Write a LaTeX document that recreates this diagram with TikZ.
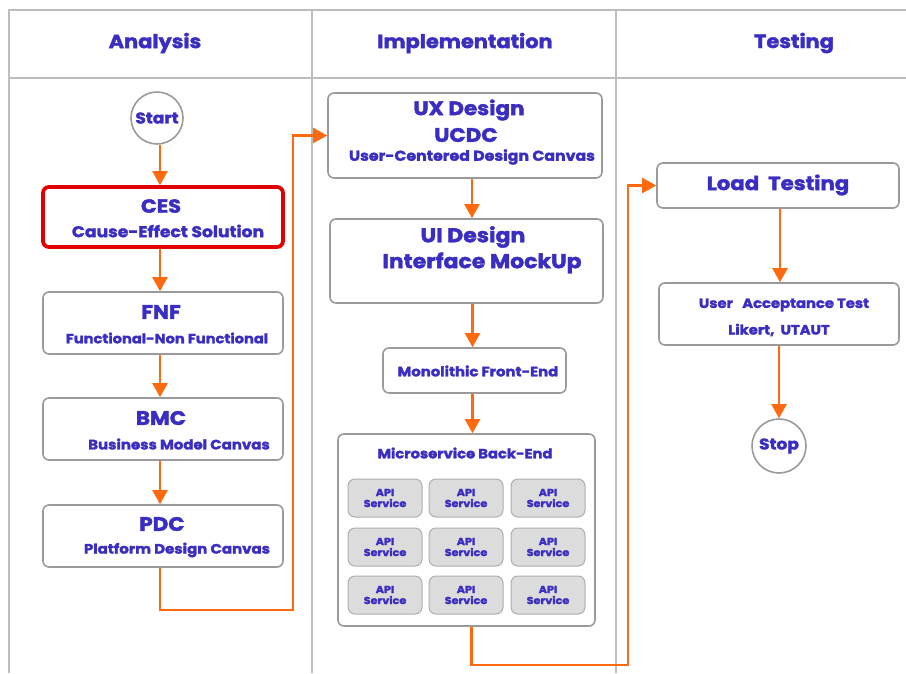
\documentclass[tikz,border=0pt]{standalone}
\usepackage{fontspec}
\setmainfont{Poppins}[FakeStretch=1.1, BoldFeatures={FakeBold=2}]
\usetikzlibrary{arrows.meta}
\definecolor{txt}{HTML}{3A2DC2}
\definecolor{org}{HTML}{FF6A10}
\definecolor{bgray}{HTML}{9A9A9A}
\definecolor{lgray}{HTML}{BDBDBD}
\definecolor{apifill}{HTML}{DCDCDC}
\definecolor{cesred}{HTML}{E00000}
\newcommand{\fs}[1]{\bfseries\fontsize{#1}{#1}\selectfont}
\begin{document}
\begin{tikzpicture}[x=1pt,y=-1pt,
  box/.style={draw=bgray, line width=1.6pt, rounded corners=6pt, fill=white, inner sep=0pt},
  circ/.style={draw=bgray, line width=1.6pt, circle, fill=white, inner sep=0pt},
  apibox/.style={draw=bgray!80, line width=1pt, rounded corners=7pt, fill=apifill, inner sep=0pt,
    minimum width=74pt, minimum height=38pt, align=center, text=txt, font=\bfseries\fontsize{10.2}{13}\selectfont},
  lbl/.style={text=txt, inner sep=0pt},
  flow/.style={draw=org, line width=2.1pt, -{Triangle[width=15pt,length=14pt]}},
  grid/.style={draw=lgray, line width=1.2pt}
]
\useasboundingbox (0,0) rectangle (906,673);
% swimlane grid
\draw[grid] (9,673) -- (9,10) -- (906,10);
\draw[grid] (9,78) -- (906,78);
\draw[grid] (312,10) -- (312,673);
\draw[grid] (616,10) -- (616,673);
\node[lbl, font=\fs{19}] (hA) at (155,43) {Analysis};
\node[lbl, font=\fs{19}] (hI) at (465,43) {Implementation};
\node[lbl, font=\fs{19}] (hT) at (794,43) {Testing};

% Analysis column
\node[circ, minimum size=52pt] (start) at (157,118) {};
\node[lbl, font=\fs{15.5}] (tstart) at (157,118) {Start};
\node[box, draw=cesred, line width=3.8pt, minimum width=240pt, minimum height=60pt] (ces) at (163,217) {};
\node[lbl, font=\fs{19}] (tces1) at (161,206) {CES};
\node[lbl, font=\fs{15.6}] (tces2) at (168,231) {Cause-Effect Solution};
\node[box, minimum width=240pt, minimum height=62pt] (fnf) at (163,323) {};
\node[lbl, font=\fs{19.5}] (tfnf1) at (161,312) {FNF};
\node[lbl, font=\fs{13.3}] (tfnf2) at (167,338) {Functional-Non Functional};
\node[box, minimum width=240pt, minimum height=62pt] (bmc) at (163,429) {};
\node[lbl, font=\fs{19.5}] (tbmc1) at (161,418) {BMC};
\node[lbl, font=\fs{13.6}] (tbmc2) at (179,444) {Business Model Canvas};
\node[box, minimum width=240pt, minimum height=62pt] (pdc) at (163,536) {};
\node[lbl, font=\fs{19.5}] (tpdc1) at (162,524) {PDC};
\node[lbl, font=\fs{13.6}] (tpdc2) at (177,550) {Platform Design Canvas};

% Implementation column
\node[box, minimum width=274pt, minimum height=85pt] (ux) at (465,135.5) {};
\node[lbl, font=\fs{19.5}] (tux1) at (469,110) {UX Design};
\node[lbl, font=\fs{19.5}] (tux2) at (466,135) {UCDC};
\node[lbl, font=\fs{14.3}] (tux3) at (472,157) {User-Centered Design Canvas};
\node[box, minimum width=273pt, minimum height=84pt] (ui) at (466.5,261) {};
\node[lbl, font=\fs{20}] (tui1) at (473,237) {UI Design};
\node[lbl, font=\fs{20}] (tui2) at (482,263) {Interface MockUp};
\node[box, minimum width=183pt, minimum height=45pt] (mono) at (474.5,370.5) {};
\node[lbl, font=\fs{13.5}] (tmono) at (478,371) {Monolithic Front-End};
\node[box, minimum width=257pt, minimum height=192pt] (micro) at (466.5,530) {};
\node[lbl, font=\fs{13.4}] (tmicro) at (465,453) {Microservice Back-End};
\foreach \r/\yy in {1/498,2/547,3/595}{
  \foreach \c/\xx in {1/385,2/466,3/548}{
    \node[apibox] (api\r\c) at (\xx,\yy) {API\\[-2pt]Service};
  }
}

% Testing column
\node[box, minimum width=242pt, minimum height=45pt] (load) at (778,185.5) {};
\node[lbl, font=\fs{19.3}] (tload) at (778,185) {Load\ \ Testing};
\node[box, minimum width=240pt, minimum height=62pt] (uat) at (779,314) {};
\node[lbl, font=\fs{13.4}] (tuat1) at (784,305) {User\ \ \ Acceptance Test};
\node[lbl, font=\fs{13.4}] (tuat2) at (779,330) {Likert,\ \ UTAUT};
\node[circ, minimum size=54pt] (stop) at (779,446) {};
\node[lbl, font=\fs{15.5}] (tstop) at (779,446) {Stop};

% connectors
\coordinate (c1) at (293,610);
\coordinate (c2) at (628,665);
\draw[flow] ([xshift=3pt]start.south) -- ([xshift=3pt]start.south |- ces.north);
\draw[flow] ([xshift=-3pt]ces.south) -- ([xshift=-3pt]fnf.north);
\draw[flow] ([xshift=-3pt]fnf.south) -- ([xshift=-3pt]bmc.north);
\draw[flow] ([xshift=-3pt]bmc.south) -- ([xshift=-3pt]pdc.north);
\draw[flow] ([xshift=-3pt]pdc.south) |- (c1) |- (ux.west);
\draw[flow] ([xshift=7pt]ux.south) -- ([xshift=7pt]ux.south |- ui.north);
\draw[flow] ([xshift=-2pt]mono.north |- ui.south) -- ([xshift=-2pt]mono.north);
\draw[flow] ([xshift=-2pt]mono.south) -- ([xshift=-2pt]mono.south |- micro.north);
\draw[flow] ([xshift=5pt]micro.south) |- (c2) |- (load.west);
\draw[flow] ([xshift=2pt]load.south) -- ([xshift=2pt]load.south |- uat.north);
\draw[flow] (uat.south) -- (stop.north);
\end{tikzpicture}
\end{document}
